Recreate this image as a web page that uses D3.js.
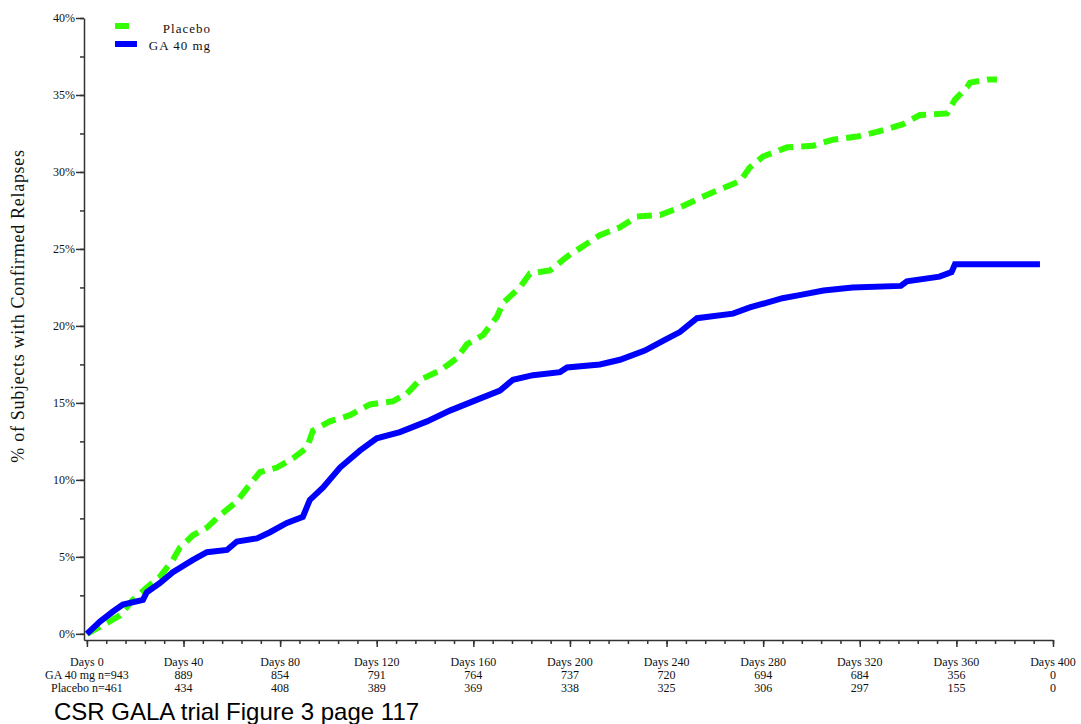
<!DOCTYPE html>
<html>
<head>
<meta charset="utf-8">
<script src="https://cdn.jsdelivr.net/npm/d3@7"></script>
<style>
  body { margin: 0; background: #fff; }
  svg text { font-family: "Liberation Serif", "DejaVu Serif", serif; fill: #111; }
  .axis path, .axis line { stroke: #333; stroke-width: 1.5; }
</style>
</head>
<body>
<svg id="chart" width="1081" height="724"></svg>
<script>
/*global d3*/

// x axis: days, labels and numbers at risk
var dayTicks = [0, 40, 80, 120, 160, 200, 240, 280, 320, 360, 400];
var gaAtRisk = [943, 889, 854, 791, 764, 737, 720, 694, 684, 356, 0];
var placeboAtRisk = [461, 434, 408, 389, 369, 338, 325, 306, 297, 155, 0];
var pctTicks = [0, 5, 10, 15, 20, 25, 30, 35, 40];

// GA 40 mg curve (days, cumulative %)
var gaDays = [0, 5.4, 10.8, 14.9, 23.2, 24.8, 30.2, 35.6, 43.9, 49.7, 58, 62.1, 70.4, 75.8, 82.8, 89.4,
    92.3, 97.7, 104.8, 113, 120, 129.6, 140.8, 150.3, 159.8, 171, 176.4, 184.7, 195.9, 198.8, 212.4,
    220.7, 231, 239.3, 245.5, 252.6, 267.5, 274.5, 288, 295, 305, 317, 337, 339.5, 353, 358, 359.4, 394.6];
var gaPct = [0, 0.8, 1.45, 1.9, 2.2, 2.7, 3.3, 4.0, 4.8, 5.3, 5.45, 6.0, 6.2, 6.6, 7.2, 7.6,
    8.7, 9.5, 10.8, 11.9, 12.7, 13.1, 13.8, 14.5, 15.1, 15.8, 16.5, 16.8, 17.0, 17.3, 17.5,
    17.8, 18.4, 19.1, 19.6, 20.5, 20.8, 21.2, 21.8, 22.0, 22.3, 22.5, 22.6, 22.9, 23.2, 23.5, 24.0, 24.0];

// Placebo curve (days, cumulative %)
var placeboDays = [0, 8.2, 13.7, 19, 24.8, 30.2, 35.6, 38.5, 43.9, 49.7, 55.1, 62.1, 67.5, 71.6, 78.7,
    85.3, 91.1, 93.6, 100.6, 108.9, 117.2, 126.7, 132.5, 137.9, 146.2, 153.2, 157.3, 164, 169.8, 172.3,
    179.3, 183.4, 191.7, 198.8, 212.4, 220.7, 227.7, 237.3, 245.5, 253.8, 260.9, 270.4, 274.5, 279.9,
    289.9, 300.6, 308.9, 318.8, 327.1, 337.9, 344.9, 356.1, 359.4, 364.4, 365.6, 373, 376.8];
var placeboPct = [0, 0.7, 1.2, 2.2, 3.0, 3.7, 4.8, 5.6, 6.4, 6.9, 7.7, 8.6, 9.7, 10.5, 10.8,
    11.4, 12.1, 13.2, 13.8, 14.2, 14.9, 15.1, 15.6, 16.5, 17.1, 17.9, 18.8, 19.4, 20.6, 21.5,
    22.5, 23.4, 23.6, 24.5, 25.9, 26.4, 27.1, 27.2, 27.7, 28.3, 28.8, 29.4, 30.3, 31.0,
    31.6, 31.7, 32.1, 32.3, 32.6, 33.1, 33.7, 33.8, 34.7, 35.5, 35.8, 36.0, 36.0];

var svg = d3.select("#chart");

var x = d3.scaleLinear().domain([-1.2, 400]).range([84, 1053]);
var y = d3.scaleLinear().domain([-0.4, 40]).range([640, 18]);

// x axis: minor ticks every 8 days, major every 40
svg.append("g")
    .attr("class", "axis")
    .attr("transform", "translate(0," + y(-0.4) + ")")
    .call(d3.axisBottom(x).tickValues(d3.range(0, 401, 8)).tickSize(4).tickSizeOuter(0).tickFormat(""));
svg.append("g")
    .attr("class", "axis")
    .attr("transform", "translate(0," + y(-0.4) + ")")
    .call(d3.axisBottom(x).tickValues(dayTicks).tickSize(7).tickSizeOuter(0).tickFormat(""))
    .call(function (g) { g.select(".domain").remove(); });

// y axis: minor every 2.5, major every 5
svg.append("g")
    .attr("class", "axis")
    .attr("transform", "translate(" + x(-1.2) + ",0)")
    .call(d3.axisLeft(y).tickValues(d3.range(0, 40.1, 2.5)).tickSize(4).tickSizeOuter(0).tickFormat(""));
svg.append("g")
    .attr("class", "axis")
    .attr("transform", "translate(" + x(-1.2) + ",0)")
    .call(d3.axisLeft(y).tickValues(pctTicks).tickSize(8).tickSizeOuter(0).tickFormat(function (d) { return d + "%"; }))
    .call(function (g) {
        g.select(".domain").remove();
        g.selectAll("text").attr("font-size", 12).attr("x", -9).attr("fill", "#111");
    });

// y title
svg.append("text")
    .attr("transform", "translate(24," + 306 + ") rotate(-90)")
    .attr("text-anchor", "middle")
    .attr("font-size", 18)
    .attr("letter-spacing", 0.7)
    .text("% of Subjects with Confirmed Relapses");

// x labels and at-risk rows
var rows = svg.append("g").attr("font-size", 12).attr("text-anchor", "middle");
dayTicks.forEach(function (d, i) {
    rows.append("text").attr("x", x(d)).attr("y", 666).text("Days " + d);
    rows.append("text").attr("x", x(d)).attr("y", 679)
        .text(i === 0 ? "GA 40 mg n=" + gaAtRisk[i] : gaAtRisk[i]);
    rows.append("text").attr("x", x(d)).attr("y", 692)
        .text(i === 0 ? "Placebo n=" + placeboAtRisk[i] : placeboAtRisk[i]);
});

// curves
var line = d3.line()
    .x(function (d) { return x(d[0]); })
    .y(function (d) { return y(d[1]); });

var gaData = d3.zip(gaDays, gaPct);
var placeboData = d3.zip(placeboDays, placeboPct);

svg.append("path")
    .datum(placeboData)
    .attr("d", line)
    .attr("fill", "none")
    .attr("stroke", "#33ff00")
    .attr("stroke-width", 6)
    .attr("stroke-dasharray", "15,8");

svg.append("path")
    .datum(gaData)
    .attr("d", line)
    .attr("fill", "none")
    .attr("stroke", "#0000ff")
    .attr("stroke-width", 6);

// legend
var legend = svg.append("g").attr("font-size", 13).attr("letter-spacing", 1);
legend.append("line").attr("x1", 115).attr("x2", 129).attr("y1", 26).attr("y2", 26)
    .attr("stroke", "#33ff00").attr("stroke-width", 6);
legend.append("line").attr("x1", 115).attr("x2", 137).attr("y1", 44).attr("y2", 44)
    .attr("stroke", "#0000ff").attr("stroke-width", 6);
legend.append("text").attr("x", 211).attr("y", 33).attr("text-anchor", "end").text("Placebo");
legend.append("text").attr("x", 211).attr("y", 50).attr("text-anchor", "end").text("GA 40 mg");

// caption
svg.append("text")
    .attr("x", 54).attr("y", 720)
    .style("font-family", "'Liberation Sans', Arial, sans-serif")
    .style("fill", "#000")
    .attr("font-size", 24)
    .text("CSR GALA trial Figure 3 page 117");
</script>
</body>
</html>
